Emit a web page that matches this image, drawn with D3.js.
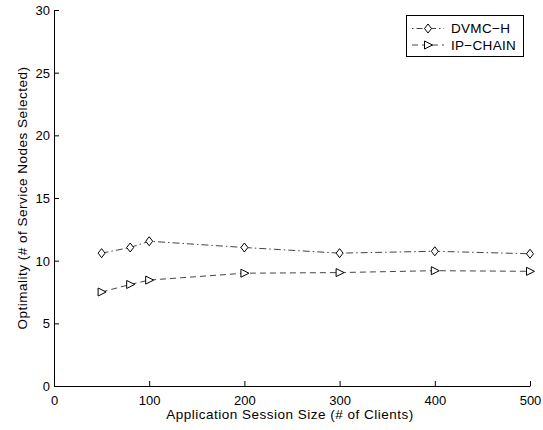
<!DOCTYPE html>
<html>
<head>
<meta charset="utf-8">
<script src="https://cdn.jsdelivr.net/npm/d3@7"></script>
<style>
  html, body { margin: 0; padding: 0; background: #fff; }
  svg { display: block; font-family: "Liberation Sans", Arial, Helvetica, sans-serif; }
</style>
</head>
<body>
<svg id="chart" width="543" height="430"></svg>
<script>
// Session sizes (number of clients)
const sessionSizes = [50, 80, 100, 200, 300, 400, 500];
// Number of service nodes selected per scheme
const dvmcH   = [10.6, 11.05, 11.55, 11.05, 10.6, 10.75, 10.55];
const ipChain = [7.5, 8.1, 8.45, 9.0, 9.05, 9.2, 9.15];
const seriesNames = ["DVMC\u2212H", "IP\u2212CHAIN"];
const xTicks = [0, 100, 200, 300, 400, 500];
const yTicks = [0, 5, 10, 15, 20, 25, 30];

const svg = d3.select("#chart");
const plotLeft = 54, plotRight = 530, plotTop = 10, plotBottom = 386;

const x = d3.scaleLinear().domain([0, 500]).range([plotLeft, plotRight]);
const y = d3.scaleLinear().domain([0, 30]).range([plotBottom, plotTop]);

// Axes: ticks point inward, as in a MATLAB figure
const xAxis = d3.axisBottom(x).tickValues(xTicks).tickSizeInner(-5).tickSizeOuter(0).tickPadding(10);
const yAxis = d3.axisLeft(y).tickValues(yTicks).tickSizeInner(-5).tickSizeOuter(0).tickPadding(4);

const gx = svg.append("g").attr("transform", `translate(0,${plotBottom})`).call(xAxis);
const gy = svg.append("g").attr("transform", `translate(${plotLeft},0)`).call(yAxis);
[gx, gy].forEach(g => {
  g.selectAll("path.domain").attr("stroke", "#000").attr("stroke-width", 1);
  g.selectAll(".tick line").attr("stroke", "#000");
  g.selectAll(".tick text").attr("fill", "#000").style("font-size", "13px")
    .style("font-family", "'Liberation Sans', Arial, sans-serif");
});
gy.selectAll(".tick text").attr("dy", "0.35em");

// Axis titles
svg.append("text")
  .attr("x", 290).attr("y", 419)
  .attr("text-anchor", "middle").style("font-size", "13.5px")
  .style("letter-spacing", "0.5px")
  .text("Application Session Size (# of Clients)");
svg.append("text")
  .attr("transform", `translate(26.5,198) rotate(-90)`)
  .attr("text-anchor", "middle").style("font-size", "13.5px")
  .style("letter-spacing", "0.5px")
  .text("Optimality (# of Service Nodes Selected)");

const lineGen = d3.line().x(d => x(d[0])).y(d => y(d[1]));
const dashStyles = ["7,3,1.5,3", "6,4"];
const lineColor = "#444";

const diamond = (g) => g.append("path").attr("d", "M0,-4.5L3.5,0L0,4.5L-3.5,0Z")
  .attr("fill", "#fff").attr("stroke", "#000").attr("stroke-width", 1);
const triangle = (g) => g.append("path").attr("d", "M-3.5,-4L4.5,0L-3.5,4Z")
  .attr("fill", "#fff").attr("stroke", "#000").attr("stroke-width", 1);
const markers = [diamond, triangle];

[dvmcH, ipChain].forEach((vals, i) => {
  const pts = sessionSizes.map((s, j) => [s, vals[j]]);
  svg.append("path").datum(pts)
    .attr("d", lineGen)
    .attr("fill", "none")
    .attr("stroke", lineColor)
    .attr("stroke-width", 1)
    .attr("stroke-dasharray", dashStyles[i]);
  svg.append("g").selectAll("g").data(pts).join("g")
    .attr("transform", d => `translate(${x(d[0])},${y(d[1])})`)
    .each(function () { markers[i](d3.select(this)); });
});

// Legend
const lg = svg.append("g");
lg.append("rect").attr("x", 406.5).attr("y", 15.5).attr("width", 117).attr("height", 41)
  .attr("fill", "#fff").attr("stroke", "#000").attr("stroke-width", 1);
seriesNames.forEach((name, i) => {
  const ry = 28.5 + i * 16.5;
  lg.append("line").attr("x1", 412).attr("x2", 444).attr("y1", ry).attr("y2", ry)
    .attr("stroke", lineColor).attr("stroke-width", 1)
    .attr("stroke-dasharray", i === 0 ? "1.5,3,6,3" : "6,4");
  const m = lg.append("g").attr("transform", `translate(428,${ry})`);
  markers[i](m);
  lg.append("text").attr("x", 451).attr("y", ry).attr("dy", "0.36em")
    .style("font-size", "13.5px").style("letter-spacing", "0.3px").text(name);
});
</script>
</body>
</html>
